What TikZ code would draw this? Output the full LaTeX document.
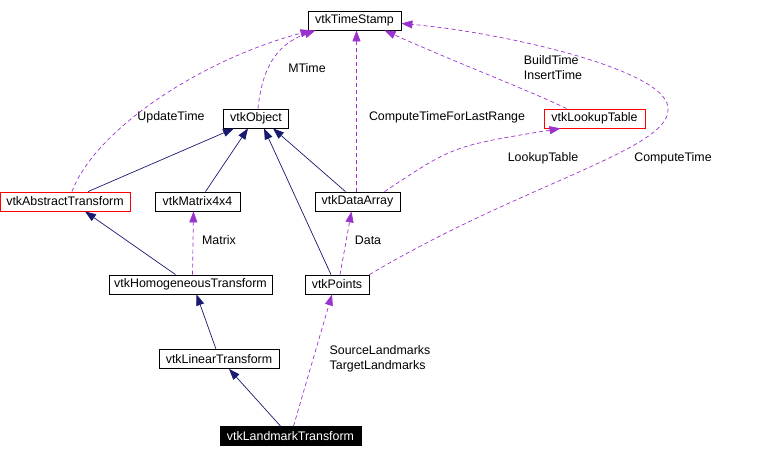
\documentclass[tikz,border=0pt]{standalone}
\usepackage{fontspec}
\setmainfont{Liberation Sans}
\usetikzlibrary{arrows.meta,calc,positioning}
\definecolor{Navy}{HTML}{191970}
\definecolor{Orchid}{HTML}{9A32CD}
\definecolor{Alert}{HTML}{FF0000}
\tikzset{
  cls/.style={
    draw=black, line width=0.8pt, fill=white, inner sep=0pt,
    minimum height=19pt, font=\fontsize{12.4}{14}\selectfont
  },
  badcls/.style={cls, draw=Alert},
  focus/.style={cls, fill=black, text=white},
  inherit/.style={-{Triangle[length=11pt,width=8pt]}, line width=0.7pt, draw=Navy},
  uses/.style={-{Triangle[length=11pt,width=8pt]}, line width=0.7pt, draw=Orchid,
    dash pattern=on 4pt off 3pt},
  lbl/.style={font=\fontsize{12.4}{15}\selectfont, inner sep=0pt, align=left}
}
\begin{document}
\begin{tikzpicture}[x=1pt,y=-1pt]
        \useasboundingbox (0,0) rectangle (776,458);
        \node[cls,minimum width=93pt] (ts) at (354.5,20.5) {vtkTimeStamp};
        \node[cls,minimum width=65pt] (obj) at (256,118.5) {vtkObject};
        \node[badcls,minimum width=101pt] (lut) at (594.5,118.5) {vtkLookupTable};
        \node[badcls,minimum width=130pt] (abs) at (65,201.5) {vtkAbstractTransform};
        \node[cls,minimum width=85pt] (mat) at (197.5,201.5) {vtkMatrix4x4};
        \node[cls,minimum width=85pt] (da) at (357.5,201.5) {vtkDataArray};
        \node[cls,minimum width=163pt] (homo) at (190.5,284.5) {vtkHomogeneousTransform};
        \node[cls,minimum width=64pt] (pts) at (337,284.5) {vtkPoints};
        \node[cls,minimum width=120pt] (lin) at (219,359) {vtkLinearTransform};
        \node[focus,minimum width=141pt] (land) at (290.5,436) {vtkLandmarkTransform};
        \draw[inherit] ([xshift=23pt]abs.north)--([xshift=-22pt]obj.south);
        \draw[inherit] ([xshift=8pt]mat.north)--([xshift=-8pt]obj.south);
        \draw[inherit] ([xshift=-6pt]pts.north)--([xshift=8pt]obj.south);
        \draw[inherit] ([xshift=-12pt]da.north)--([xshift=17pt]obj.south);
        \draw[inherit] ([xshift=-15pt]homo.north)--([xshift=20pt]abs.south);
        \draw[inherit] ([xshift=-3pt]lin.north)--([xshift=6pt]homo.south);
        \draw[inherit] ([xshift=-10pt]land.north)--([xshift=10pt]lin.south);
        \draw[uses] ([xshift=2pt]obj.north) .. controls (262,70) and (275,45) .. ([xshift=-39pt]ts.south);
        \draw[uses] ([xshift=7pt]abs.north) .. controls (95,130) and (200,60) .. ([xshift=-43pt]ts.south);
        \draw[uses] ([xshift=-1pt]da.north)--([xshift=2pt]ts.south);
        \draw[uses] ([xshift=-28pt]lut.north) .. controls (540,95) and (450,60) .. ([xshift=30pt]ts.south);
        \draw[uses] (pts.north east) .. controls (520,185) and (668,150) .. (668,110)
          .. controls (672,70) and (500,32) .. ([yshift=-3pt]ts.east);
        \draw[uses] ([xshift=27pt]da.north) .. controls (453,146) .. ([xshift=-34pt]lut.south);
        \draw[uses] ([xshift=3pt]pts.north)--([xshift=-6pt]da.south);
        \draw[uses] ([xshift=2pt]homo.north)--([xshift=-4pt]mat.south);
        \draw[uses] ([xshift=3pt]land.north)--([xshift=-5pt]pts.south);
        \node[lbl] (lmtime) at (307,68) {MTime};
        \node[lbl] (lupd) at (171,117) {UpdateTime};
        \node[lbl] (lrange) at (447,117) {ComputeTimeForLastRange};
        \node[lbl] (lbuild) at (553,68) {BuildTime\\InsertTime};
        \node[lbl] (llut) at (543,158) {LookupTable};
        \node[lbl] (lctime) at (673,158) {ComputeTime};
        \node[lbl] (ldata) at (368,240) {Data};
        \node[lbl] (lmat) at (219,240) {Matrix};
        \node[lbl] (lmarks) at (380,359) {SourceLandmarks\\TargetLandmarks};
      \end{tikzpicture}
\end{document}
